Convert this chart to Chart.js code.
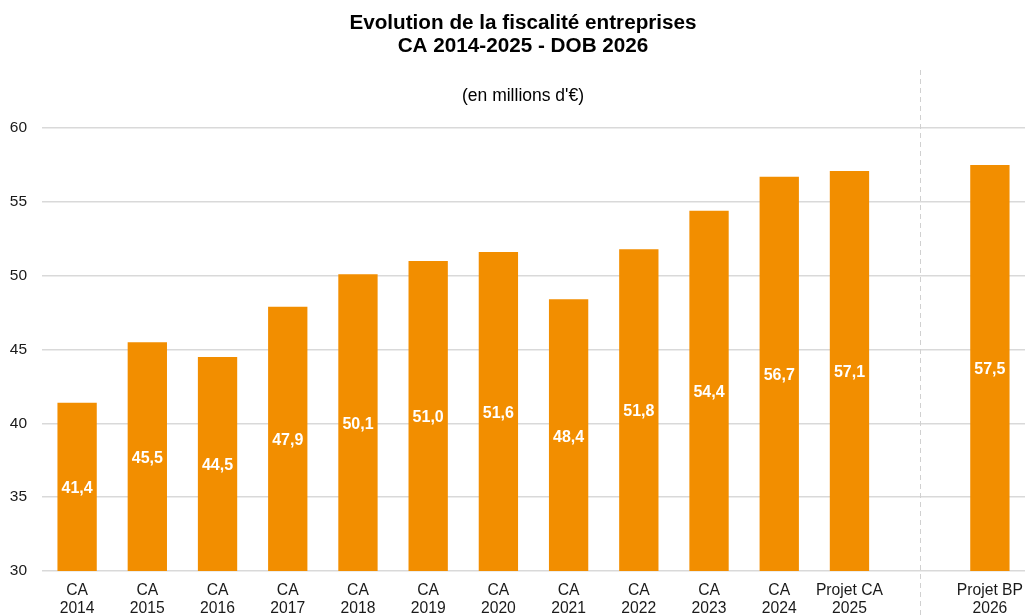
<!DOCTYPE html>
<html>
<head>
<meta charset="utf-8">
<script src="https://cdn.jsdelivr.net/npm/chart.js@4"></script>
<style>
  html, body { margin: 0; padding: 0; background: #fff; }
  #wrap { width: 1025px; height: 615px; position: relative; }
</style>
</head>
<body>
<div id="wrap"><canvas id="chart" width="1025" height="615"></canvas></div>
<script>
// ── Data ──────────────────────────────────────────────────────────
const categories = [
  ["CA", "2014"], ["CA", "2015"], ["CA", "2016"], ["CA", "2017"],
  ["CA", "2018"], ["CA", "2019"], ["CA", "2020"], ["CA", "2021"],
  ["CA", "2022"], ["CA", "2023"], ["CA", "2024"], ["Projet CA", "2025"],
  "", ["Projet BP", "2026"]
]
const values = [41.4, 45.5, 44.5, 47.9, 50.1, 51.0, 51.6, 48.4, 51.8, 54.4, 56.7, 57.1, null, 57.5]
const yTicks = [30, 35, 40, 45, 50, 55, 60]

const titleLines = ["Evolution de la fiscalité entreprises", "CA 2014-2025 - DOB 2026"]
const subtitle = "(en millions d'€)"
const separatorIndex = 12

const FONT = "'Liberation Sans', Arial, sans-serif"
const ORANGE = "#f28e00"

// ── Plugins: titles, separator, value labels ─────────────────────
const decorations = {
  id: "decorations",
  afterDatasetsDraw(chart) {
    const { ctx, chartArea, scales: { x } } = chart
    ctx.save()

    // separator between CA and BP
    const sx = Math.round(x.getPixelForValue(separatorIndex)) + 0.5
    ctx.strokeStyle = "#d0d0d0"
    ctx.lineWidth = 1
    ctx.setLineDash([5, 4])
    ctx.beginPath()
    ctx.moveTo(sx, 70)
    ctx.lineTo(sx, 615)
    ctx.stroke()
    ctx.setLineDash([])

    // value labels centred in the visible part of each bar
    ctx.fillStyle = "#fff"
    ctx.font = `bold 16px ${FONT}`
    ctx.textAlign = "center"
    ctx.textBaseline = "middle"
    const meta = chart.getDatasetMeta(0)
    meta.data.forEach((bar, i) => {
      const v = values[i]
      if (v == null) return
      const bottom = Math.min(bar.base, chartArea.bottom)
      ctx.fillText(v.toFixed(1).replace(".", ","), bar.x, (bar.y + bottom) / 2 + 2)
    })

    // titles
    ctx.fillStyle = "#000"
    ctx.font = `bold 20.7px ${FONT}`
    ctx.fillText(titleLines[0], 523, 23)
    ctx.fillText(titleLines[1], 523, 46)
    ctx.font = `17.5px ${FONT}`
    ctx.fillText(subtitle, 523, 96)
    ctx.restore()
  }
}

new Chart(document.getElementById("chart"), {
  type: "bar",
  data: {
    labels: categories,
    datasets: [{
      data: values,
      backgroundColor: ORANGE,
      borderWidth: 0,
      barPercentage: 0.56,
      categoryPercentage: 1,
    }]
  },
  options: {
    responsive: false,
    animation: false,
    layout: { padding: { top: 69, right: 0, left: 0, bottom: 0 } },
    plugins: {
      legend: { display: false },
      tooltip: { enabled: false },
      title: { display: false }
    },
    scales: {
      y: {
        min: 30,
        max: 64,
        afterBuildTicks: scale => { scale.ticks = yTicks.map(v => ({ value: v })) },
        afterFit: scale => { scale.width = 42 },
        border: { display: false },
        grid: { color: "#d9d9d9", lineWidth: 1.5, drawTicks: false },
        ticks: { color: "#1a1a1a", padding: 15, font: { family: FONT, size: 15.5 } }
      },
      x: {
        afterFit: scale => { scale.height = 44; scale.paddingLeft = 0; scale.paddingRight = 0 },
        border: { display: false },
        grid: { display: false, drawTicks: false },
        ticks: {
          color: "#1a1a1a",
          padding: 11,
          maxRotation: 0,
          autoSkip: false,
          font: { family: FONT, size: 15.7, lineHeight: 1.115 }
        }
      }
    }
  },
  plugins: [decorations]
})
</script>
</body>
</html>
